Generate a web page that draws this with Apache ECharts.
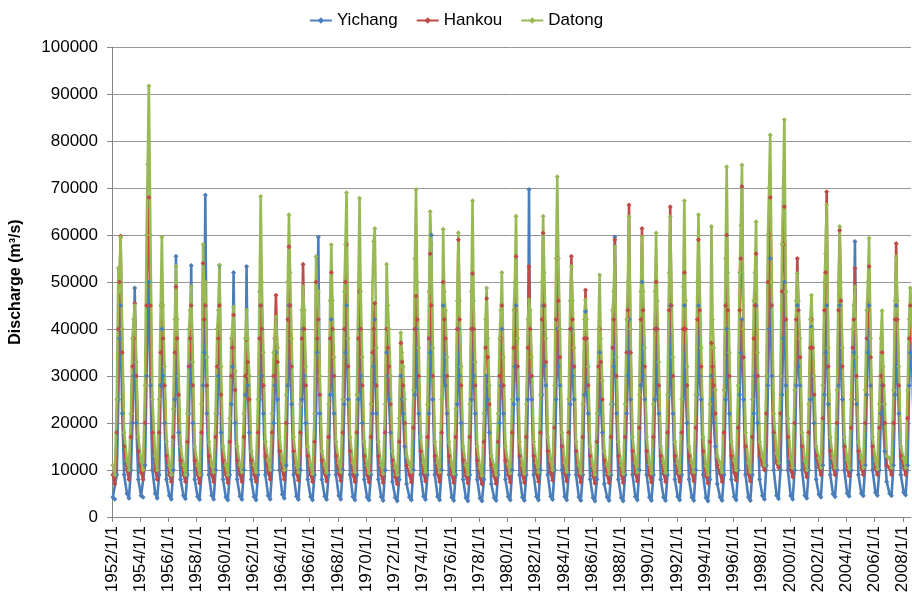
<!DOCTYPE html>
<html>
<head>
<meta charset="utf-8">
<title>Discharge</title>
<script src="https://cdn.jsdelivr.net/npm/echarts@6/dist/echarts.min.js"></script>
<style>
    html, body { margin: 0; padding: 0; background: #fff; }
    #main { width: 912px; height: 599px; }
</style>
</head>
<body>
<div id="main"></div>
<script>
/*第一行数据对应的年份*/
var firstYear = 1952;
/*每年取点的位置（年内比例）*/
var slotTimes = [0.06, 0.20, 0.34, 0.45, 0.53, 0.61, 0.72, 0.86];
/*x轴刻度*/
var tickYears = [1952, 1954, 1956, 1958, 1960, 1962, 1964, 1966, 1968, 1970, 1972, 1974, 1976, 1978,
    1980, 1982, 1984, 1986, 1988, 1990, 1992, 1994, 1996, 1998, 2000, 2002, 2004, 2006, 2008];

/*宜昌 (千 m3/s)*/
var yichang = [
    [4.2, 3.8, 9, 25, 38, 45, 22, 9],
    [5, 4, 10, 20, 30, 48.7, 20, 8],
    [4.5, 4.2, 11, 30, 45, 50, 28, 10],
    [5, 4, 9, 28, 40, 30, 20, 8],
    [4.5, 3.8, 10, 25, 55.5, 30, 18, 8],
    [4.5, 3.9, 9, 22, 32, 53.5, 20, 8],
    [4.3, 3.7, 9, 28, 35, 68.5, 22, 9],
    [4.6, 3.8, 10, 22, 30, 53.5, 18, 8],
    [4.2, 3.6, 9, 24, 32, 52, 20, 8],
    [4.4, 3.7, 10, 26, 53.3, 28, 18, 8],
    [4.3, 3.6, 9, 25, 45, 30, 22, 9],
    [4.5, 3.8, 10, 20, 28, 35, 25, 10],
    [4.8, 4, 11, 28, 45, 32, 24, 9],
    [4.4, 3.7, 10, 25, 40, 30, 20, 8],
    [4.3, 3.6, 9, 22, 35, 59.6, 22, 8],
    [4.4, 3.7, 9, 26, 42, 30, 22, 9],
    [4.5, 3.8, 10, 24, 35, 45, 25, 9],
    [4.3, 3.6, 9, 25, 40, 30, 20, 8],
    [4.2, 3.6, 9, 22, 32, 42, 22, 8],
    [4.3, 3.5, 10, 35, 30, 25, 18, 7.5],
    [4.1, 3.4, 8, 30, 25, 22, 15, 7],
    [4.2, 3.6, 10, 26, 40, 30, 22, 9],
    [4.4, 3.7, 9, 22, 35, 60, 25, 9],
    [4.3, 3.6, 10, 45, 30, 28, 22, 9],
    [4.2, 3.5, 9, 24, 40, 30, 20, 8],
    [4.1, 3.4, 9, 25, 40, 30, 22, 8],
    [4.0, 3.4, 8, 22, 30, 25, 18, 7],
    [4.1, 3.5, 9, 20, 28, 40, 22, 8],
    [4.3, 3.6, 10, 24, 32, 45, 25, 9],
    [4.2, 3.5, 9, 25, 69.7, 30, 25, 9],
    [4.3, 3.6, 10, 26, 45, 32, 28, 9],
    [4.4, 3.7, 10, 25, 40, 32, 28, 10],
    [4.3, 3.6, 9, 24, 40, 30, 25, 9],
    [4.2, 3.5, 9, 26, 43.7, 28, 22, 8],
    [4.1, 3.4, 8, 22, 35, 25, 18, 7],
    [4.2, 3.5, 9, 24, 32, 59.6, 22, 8],
    [4.1, 3.4, 9, 22, 30, 42, 25, 9],
    [4.3, 3.6, 10, 28, 50, 30, 25, 9],
    [4.2, 3.5, 9, 25, 40, 28, 22, 8],
    [4.2, 3.5, 9, 26, 45, 30, 22, 8],
    [4.3, 3.6, 9, 25, 45, 28, 20, 8],
    [4.2, 3.5, 10, 26, 45, 30, 25, 9],
    [4.1, 3.4, 8, 30, 25, 20, 15, 7],
    [4.2, 3.5, 9, 25, 40, 30, 22, 8],
    [4.3, 3.6, 10, 26, 35, 42, 25, 9],
    [4.2, 3.5, 9, 22, 30, 45, 20, 8],
    [4.5, 3.8, 11, 28, 40, 55, 30, 10],
    [4.6, 3.9, 10, 26, 38, 50, 28, 10],
    [4.5, 3.8, 10, 28, 45, 32, 28, 10],
    [4.6, 4, 10, 25, 40.4, 30, 20, 8],
    [4.8, 4.2, 11, 26, 35, 45, 24, 9],
    [4.9, 4.3, 10, 28, 45, 32, 25, 10],
    [5, 4.4, 10, 25, 35, 58.6, 24, 9],
    [5, 4.5, 11, 26, 35, 45, 28, 10],
    [5.2, 4.6, 10, 22, 28, 20, 14, 7.5],
    [5, 4.5, 11, 26, 45, 32, 22, 9],
    [5.2, 4.7, 11, 28, 35, 40, 25, 10]
];

/*汉口*/
var hankou = [
    [9, 7, 18, 40, 50, 59.8, 35, 15],
    [10, 8, 17, 32, 38, 45.5, 30, 14],
    [9.5, 8, 20, 45, 60, 68, 45, 18],
    [10, 8, 18, 35, 45, 38, 28, 13],
    [9, 7.5, 17, 35, 49, 38, 26, 12],
    [9, 7.5, 16, 32, 38, 45, 28, 12],
    [9, 7.2, 18, 54, 42, 45, 28, 13],
    [9, 7.5, 17, 32, 38, 45, 26, 12],
    [9, 7.3, 16, 30, 36, 43, 27, 12],
    [9, 7.5, 17, 30, 37.7, 33, 25, 12],
    [9, 7.5, 18, 38, 45, 40, 28, 13],
    [9.5, 8, 18, 30, 38, 47.2, 33, 14],
    [10, 8, 20, 42, 57.5, 45, 32, 14],
    [9.5, 7.8, 18, 38, 53.8, 40, 28, 13],
    [9, 7.5, 16, 50, 38, 42, 26, 12],
    [9.2, 7.6, 17, 38, 52, 40, 30, 13],
    [9.3, 7.7, 18, 40, 50, 58, 32, 14],
    [9, 7.5, 18, 38, 48, 40, 28, 13],
    [9, 7.4, 17, 35, 40, 45.5, 28, 13],
    [9, 7.3, 18, 40, 36, 32, 24, 12],
    [8.5, 7, 16, 37, 33, 28, 20, 11],
    [9, 7.4, 19, 40, 47, 42, 30, 14],
    [9.2, 7.6, 17, 38, 56, 45, 30, 13],
    [9.2, 7.5, 18, 50, 42, 38, 30, 13],
    [9, 7.3, 17, 40, 59, 42, 28, 12],
    [8.8, 7.2, 17, 40, 51.8, 40, 28, 12],
    [8.5, 7, 16, 36, 46.5, 34, 24, 11],
    [8.7, 7.1, 16, 30, 38, 45, 28, 12],
    [9, 7.4, 18, 36, 44, 55.4, 32, 13],
    [9, 7.3, 17, 36, 53.3, 40, 30, 13],
    [9.2, 7.5, 18, 42, 60.4, 45, 33, 14],
    [9.5, 7.8, 19, 42, 55, 46, 34, 15],
    [9.3, 7.6, 18, 40, 55.5, 42, 32, 14],
    [9, 7.4, 17, 38, 48.3, 38, 28, 13],
    [8.8, 7.2, 16, 32, 40, 33, 25, 12],
    [9, 7.3, 17, 36, 42, 59, 30, 13],
    [9, 7.3, 17, 35, 44, 66.4, 35, 14],
    [9.3, 7.6, 19, 42, 61.4, 44, 32, 14],
    [9, 7.4, 17, 40, 50, 40, 28, 13],
    [9.2, 7.5, 18, 44, 66, 45, 30, 13],
    [9.2, 7.5, 18, 40, 52, 40, 28, 13],
    [9.3, 7.6, 19, 42, 59, 44, 32, 14],
    [8.8, 7.2, 16, 37, 32, 28, 22, 11],
    [9.2, 7.5, 18, 45, 60, 44, 30, 13],
    [9.5, 7.8, 19, 44, 55, 70.3, 34, 15],
    [9.2, 7.6, 17, 38, 45, 56, 30, 13],
    [11, 10, 22, 50, 60, 68, 45, 18],
    [11.5, 10.5, 22, 48, 58, 66, 42, 17],
    [10, 8.5, 20, 42, 55, 44, 34, 15],
    [10, 8.5, 18, 36, 42, 36, 26, 13],
    [10.5, 9, 21, 44, 52, 69.2, 32, 14],
    [10.5, 9, 20, 44, 61, 46, 32, 15],
    [10.2, 8.8, 19, 36, 42, 52.9, 30, 14],
    [10.4, 9, 20, 38, 44, 53.3, 34, 15],
    [10.2, 9, 19, 30, 35, 28, 20, 11],
    [10.4, 9, 20, 42, 58.2, 42, 28, 13],
    [10.5, 9, 21, 38, 45, 40, 30, 14]
];

/*大通*/
var datong = [
    [11, 9, 25, 53, 48, 59.5, 40, 18],
    [12, 10, 22, 38, 42, 45, 33, 17],
    [12, 10, 28, 60, 75, 91.7, 60, 25],
    [13, 10, 25, 45, 59.6, 45, 32, 16],
    [11, 9, 23, 42, 53.3, 42, 30, 15],
    [11, 9, 22, 40, 44, 49, 33, 15],
    [11, 9, 24, 58, 46, 50, 34, 16],
    [11, 9.5, 22, 40, 44, 53.6, 32, 15],
    [11, 9, 21, 38, 40, 44.7, 31, 15],
    [11, 9.5, 22, 38, 44, 38, 30, 14],
    [11, 9.5, 25, 48, 68.2, 50, 35, 16],
    [12, 10, 22, 35, 38, 42.6, 36, 17],
    [12, 10, 26, 50, 64.3, 52, 38, 17],
    [11, 9.5, 24, 44, 49, 44, 32, 15],
    [11, 9.2, 22, 55.4, 45, 48, 30, 14],
    [11, 9.4, 24, 46, 57.9, 46, 34, 16],
    [11.5, 9.6, 25, 48, 58, 69, 38, 17],
    [11.5, 9.5, 26, 50, 67.8, 48, 34, 16],
    [11, 9.3, 24, 50, 58.6, 61.4, 36, 16],
    [11, 9.2, 24, 53.8, 45, 40, 30, 14],
    [10.5, 9, 21, 39.2, 35, 32, 25, 13],
    [11.5, 9.6, 27, 55, 69.7, 50, 36, 17],
    [11.5, 9.5, 24, 48, 65, 58, 36, 16],
    [11.5, 9.5, 25, 61.2, 48, 44, 34, 16],
    [11, 9.2, 23, 46, 60.5, 46, 32, 15],
    [11, 9.1, 24, 48, 67.3, 46, 33, 15],
    [10.5, 8.8, 22, 42, 48.7, 38, 28, 13],
    [10.8, 9, 22, 38, 44, 52, 34, 15],
    [11.2, 9.3, 25, 44, 50, 64, 38, 16],
    [11, 9.2, 24, 42, 46.2, 44, 34, 16],
    [11.5, 9.5, 26, 50, 64, 52, 38, 17],
    [12, 10, 28, 55, 72.4, 55, 40, 18],
    [11.5, 9.6, 25, 46, 53.3, 46, 36, 16],
    [11, 9.3, 24, 42, 46.2, 42, 32, 15],
    [10.8, 9, 22, 40, 51.5, 38, 29, 14],
    [11, 9.2, 24, 44, 48, 57.5, 34, 16],
    [11, 9.2, 24, 42, 50, 63.9, 40, 17],
    [11.5, 9.5, 26, 48, 59.6, 48, 36, 17],
    [11.2, 9.3, 24, 48, 60.4, 46, 33, 15],
    [11.4, 9.4, 26, 52, 63.9, 50, 34, 16],
    [11.4, 9.4, 25, 49, 67.3, 46, 32, 15],
    [11.5, 9.5, 26, 50, 64.3, 50, 36, 17],
    [10.8, 9, 24, 61.8, 42, 36, 27, 13],
    [11.5, 9.5, 27, 55, 74.5, 52, 35, 16],
    [12, 10, 28, 52, 62, 74.9, 40, 18],
    [11.5, 9.5, 25, 46, 52, 62.8, 35, 16],
    [13, 11, 30, 60, 70, 81.3, 50, 22],
    [13.5, 11.5, 30, 58, 70, 84.5, 48, 21],
    [12.5, 10.5, 27, 46, 51.8, 46, 38, 18],
    [12, 10, 24, 42, 47.2, 40, 30, 15],
    [12.5, 10.5, 28, 50, 56, 66.4, 36, 17],
    [12.5, 10.5, 27, 50, 61.8, 50, 36, 17],
    [12.2, 10.3, 25, 40, 45, 49, 34, 16],
    [12.5, 10.5, 27, 44, 50, 59.3, 38, 17],
    [12, 10.2, 24, 38, 43.9, 32, 24, 13],
    [12.5, 10.5, 27, 46, 55.4, 46, 32, 15],
    [12.5, 10.5, 27, 42, 48.7, 44, 34, 16]
];

function toPoints(rows) {
    var out = [];
    rows.forEach(function (row, i) {
        row.forEach(function (v, k) {
            out.push([firstYear + i + slotTimes[k], v * 1000]);
        });
    });
    return out;
}

function lineSeries(name, rows, color) {
    return {
        name: name,
        type: 'line',
        data: toPoints(rows),
        symbol: 'diamond',
        symbolSize: 5,
        showSymbol: true,
        lineStyle: { width: 2.6, color: color },
        itemStyle: { color: color },
        clip: true
    };
}

var chart = echarts.init(document.getElementById('main'));
var font = 'Liberation Sans, Arial, sans-serif';
var option = {
    animation: false,
    color: ['#4A7EBB', '#BE4B48', '#98B954'],
    legend: {
        top: 7,
        left: 'center',
        itemWidth: 22,
        itemHeight: 8,
        itemGap: 18,
        textStyle: { fontFamily: font, fontSize: 17, color: '#000' },
        data: ['Yichang', 'Hankou', 'Datong']
    },
    grid: { left: 109, right: 1, top: 47, bottom: 82 },
    xAxis: {
        type: 'value',
        min: 1952,
        max: 2008.58,
        interval: 2,
        axisLine: { lineStyle: { color: '#868686' } },
        axisTick: { length: 5, customValues: tickYears, lineStyle: { color: '#868686' } },
        axisLabel: {
            customValues: tickYears,
            rotate: 90,
            margin: 9,
            fontFamily: font,
            fontSize: 17,
            color: '#000',
            formatter: function (v) {
                return tickYears.indexOf(v) >= 0 ? v + '/1/1' : '';
            }
        },
        splitLine: { show: false }
    },
    yAxis: {
        type: 'value',
        min: 0,
        max: 100000,
        interval: 10000,
        name: 'Discharge (m³/s)',
        nameLocation: 'middle',
        nameGap: 88,
        nameTextStyle: { fontFamily: font, fontSize: 16, fontWeight: 'bold', color: '#000' },
        axisLine: { show: true, lineStyle: { color: '#868686' } },
        axisTick: { show: true, length: 5, lineStyle: { color: '#868686' } },
        axisLabel: {
            margin: 14,
            fontFamily: font,
            fontSize: 17,
            color: '#000',
            formatter: function (v) { return String(v); }
        },
        splitLine: { lineStyle: { color: '#979797' } }
    },
    series: [
        lineSeries('Yichang', yichang, '#4A7EBB'),
        lineSeries('Hankou', hankou, '#BE4B48'),
        lineSeries('Datong', datong, '#98B954')
    ]
};
chart.setOption(option);
</script>
</body>
</html>
